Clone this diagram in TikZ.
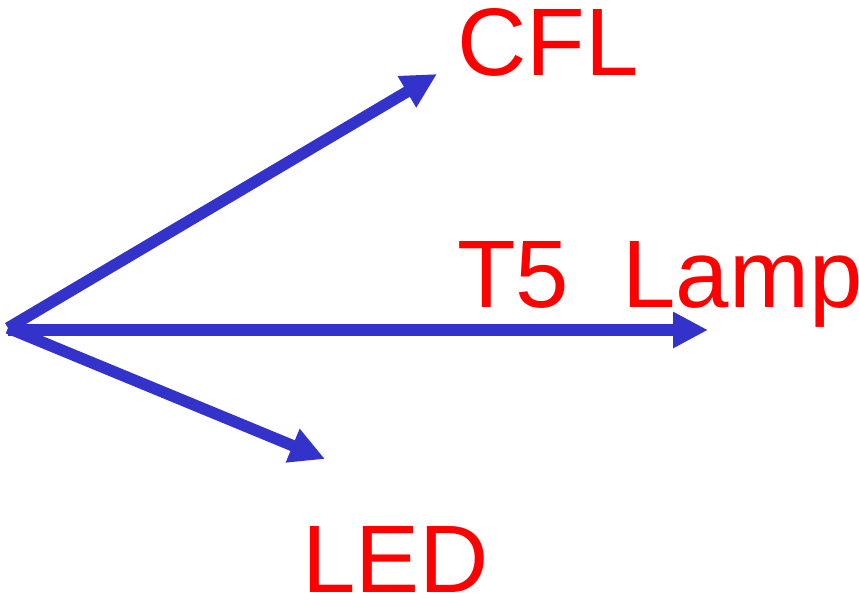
\documentclass[tikz,border=0pt]{standalone}
\usepackage{fontspec}
\setmainfont{Liberation Sans}
\usetikzlibrary{arrows.meta}
\definecolor{arrowblue}{RGB}{51,51,204}
\definecolor{labelred}{RGB}{255,0,0}
\tikzset{
  ray/.style={draw=arrowblue, line width=11.5pt, -{Triangle[length=35pt,width=34pt]}},
  lbl/.style={text=labelred, font=\fontsize{96}{110}\selectfont, inner sep=0pt, anchor=base west}
}
\begin{document}
\begin{tikzpicture}[x=1pt,y=-1pt]
\useasboundingbox (0,0) rectangle (859,600);
\coordinate (O) at (8,328);
\coordinate (cfltip) at (437,74);
\coordinate (t5tip) at (708,330);
\coordinate (ledtip) at (325,459);
\coordinate (Oh) at (8,330);
\draw[ray] (O) -- (cfltip);
\draw[ray] (O) -- (ledtip);
\draw[ray] (Oh) -- (t5tip);
\node[lbl] (cfl) at (457,75) {CFL};
\node[lbl] (t5) at (457,307) {T5\ \ Lamp};
\node[lbl] (led) at (302,592) {LED};
\end{tikzpicture}
\end{document}
